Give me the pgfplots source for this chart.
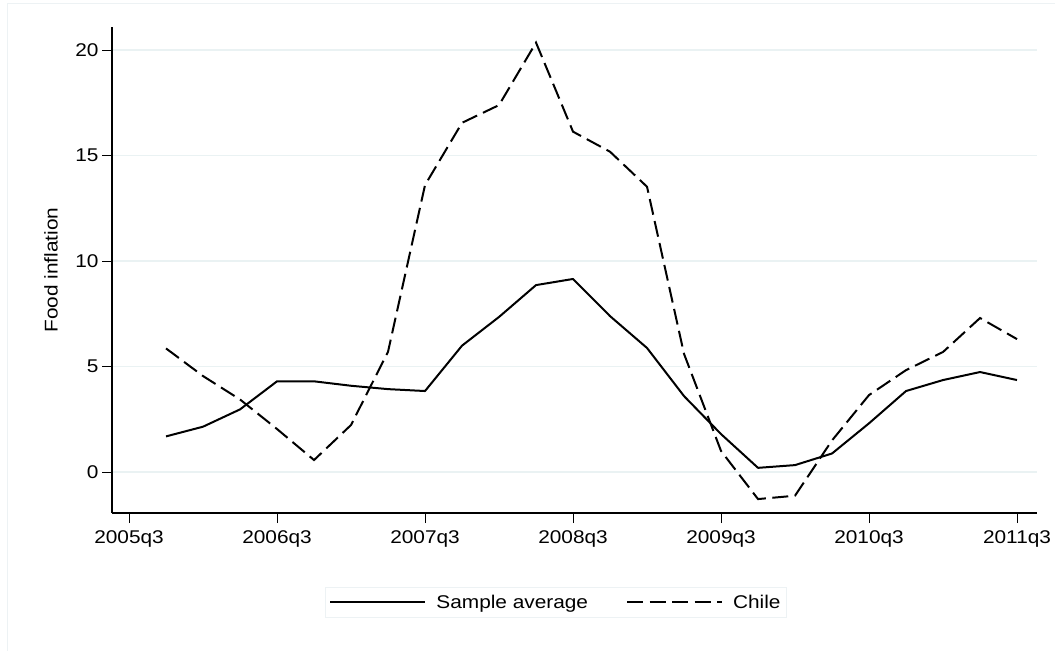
\documentclass[border=0pt]{standalone}
\usepackage{fontspec}
\setmainfont{Liberation Sans}[FakeStretch=1.13]
\usepackage{pgfplots}
\usepackage{pgfplotstable}
\pgfplotsset{compat=1.18}
\definecolor{gridc}{HTML}{EAF2F3}
\definecolor{framec}{HTML}{EDF2F4}

\pgfplotstableread{
q avg
1 1.69
2 2.15
3 2.97
4 4.30
5 4.30
6 4.09
7 3.93
8 3.84
9 5.99
10 7.35
11 8.86
12 9.15
13 7.39
14 5.88
15 3.60
16 1.80
17 0.20
18 0.33
19 0.88
20 2.31
21 3.84
22 4.36
23 4.74
24 4.36
}\avgtab

\pgfplotstableread{
q chile
1 5.86
2 4.55
3 3.44
4 2.04
5 0.57
6 2.23
7 5.70
8 13.60
9 16.55
10 17.39
11 20.35
12 16.13
13 15.18
14 13.52
15 5.60
16 1.00
17 -1.28
18 -1.12
19 1.50
20 3.65
21 4.83
22 5.69
23 7.30
24 6.30
}\chiletab

\begin{document}
\begin{tikzpicture}[font=\fontsize{18.5}{21}\selectfont]
\useasboundingbox (0,0) rectangle (1055bp,-651bp);
\fill[white] (0,0) rectangle (1055bp,-651bp);
\draw[framec, line width=1bp] (7bp,-651bp) -- (7bp,-3bp) -- (1055bp,-3bp);
\begin{axis}[
  at={(112bp,-513bp)}, anchor=south west,
  scale only axis, width=925bp, height=486bp,
  xmin=-0.46, xmax=24.54, ymin=-1.94, ymax=21.09,
  axis lines=left,
  axis line style={-, line width=1.1bp, black},
  xtick={0,4,8,12,16,20,24},
  xticklabels={2005q3,2006q3,2007q3,2008q3,2009q3,2010q3,2011q3},
  xticklabel style={yshift=-4bp},
  ytick={0,5,10,15,20},
  /pgf/number format/assume math mode=true,
  tick align=outside,
  major tick length=10bp,
  tick style={line width=1bp, black},
  ymajorgrids,
  grid style={gridc, line width=1.5bp},
  ylabel={Food inflation},
  ylabel style={at={(axis description cs:-0.066,0.5)}, anchor=center},
  legend columns=2,
  legend style={
    at={(axis description cs:0.48,-0.184)}, anchor=center,
    draw=framec, line width=1bp,
    inner xsep=4bp, inner ysep=6bp,
    /tikz/every odd column/.append style={column sep=8bp},
    /tikz/every even column/.append style={column sep=36bp},
  },
  legend cell align=left,
  legend image code/.code={\draw[#1] (0bp,0bp) -- (95bp,0bp);},
]
\addplot[black, line width=2bp, line join=round] table[x=q, y=avg] {\avgtab};
\addlegendentry{Sample average}
\addplot[black, line width=2bp, dash pattern=on 16bp off 6.5bp] table[x=q, y=chile] {\chiletab};
\addlegendentry{Chile}
\end{axis}
\end{tikzpicture}
\end{document}
